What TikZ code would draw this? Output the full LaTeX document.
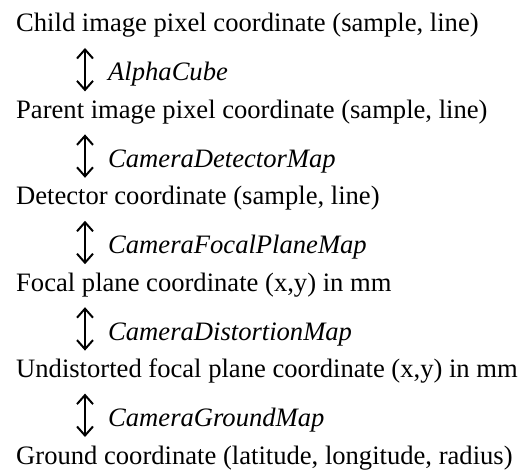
\documentclass[tikz,border=0pt]{standalone}
\usepackage{fontspec}
\setmainfont{Liberation Serif}
\usetikzlibrary{arrows.meta}
\tikzset{
  coordtext/.style={anchor=base west, inner sep=0pt, font=\fontsize{26.6pt}{32pt}\selectfont},
  maplabel/.style={anchor=base west, inner sep=0pt, font=\fontsize{26.6pt}{32pt}\selectfont\itshape},
  maparrow/.style={line width=2pt, {Straight Barb[length=9pt,width=16pt,line width=2pt]}-{Straight Barb[length=9pt,width=16pt,line width=2pt]}}
}
\begin{document}
\begin{tikzpicture}[x=1pt,y=1pt]
\useasboundingbox (0,0) rectangle (526,-470);
\coordinate (ax) at (85,0);
\node[coordtext] (c0) at (16,-32) {Child image pixel coordinate (sample, line)};
\node[coordtext] (c1) at (16,-118.4) {Parent image pixel coordinate (sample, line)};
\node[coordtext] (c2) at (16,-204.8) {Detector coordinate (sample, line)};
\node[coordtext] (c3) at (16,-291.2) {Focal plane coordinate (x,y) in mm};
\node[coordtext] (c4) at (16,-377.6) {Undistorted focal plane coordinate (x,y) in mm};
\node[coordtext] (c5) at (16,-464) {Ground coordinate (latitude, longitude, radius)};
\node[maplabel] (m0) at (108,-81) {AlphaCube};
\node[maplabel] (m1) at (108,-167.4) {CameraDetectorMap};
\node[maplabel] (m2) at (108,-253.8) {CameraFocalPlaneMap};
\node[maplabel] (m3) at (108,-340.2) {CameraDistortionMap};
\node[maplabel] (m4) at (108,-426.6) {CameraGroundMap};
\foreach \a/\b in {c0/c1,c1/c2,c2/c3,c3/c4,c4/c5}{
  \draw[maparrow] ([yshift=-16pt]\a.base -| ax) -- ([yshift=27pt]\b.base -| ax);
}
\end{tikzpicture}
\end{document}
